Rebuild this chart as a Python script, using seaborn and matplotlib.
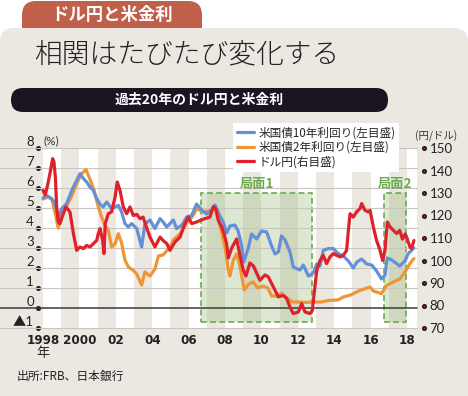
import numpy as np
import pandas as pd
import matplotlib
matplotlib.use("Agg")
import matplotlib.pyplot as plt
from matplotlib.patches import FancyBboxPatch, Rectangle
from matplotlib.colors import to_rgba
import seaborn as sns

# ------------------------------
# Data
# ------------------------------
# US 10y yield (%), decimal years
t10 = [1998.0, 1998.2, 1998.48, 1998.66, 1998.84, 1999.03, 1999.3, 1999.58, 1999.76,
       2000.03, 2000.22, 2000.4, 2000.58, 2000.77, 2000.95, 2001.13, 2001.3, 2001.5,
       2001.77, 2001.96, 2002.14, 2002.32, 2002.5, 2002.69, 2002.87, 2003.15, 2003.42,
       2003.6, 2003.88, 2004.15, 2004.43, 2004.6, 2004.8, 2005.16, 2005.34, 2005.62,
       2005.9, 2006.17, 2006.44, 2006.72, 2006.99, 2007.27, 2007.45, 2007.72, 2007.9,
       2008.09, 2008.27, 2008.55, 2008.72, 2008.9, 2009.03, 2009.28, 2009.46, 2009.74,
       2010.0, 2010.29, 2010.56, 2010.75, 2010.93, 2011.1, 2011.3, 2011.57, 2011.75,
       2012.12, 2012.3, 2012.58, 2012.85, 2013.04, 2013.22, 2013.4, 2013.67, 2013.95,
       2014.22, 2014.5, 2014.78, 2015.05, 2015.25, 2015.51, 2015.78, 2016.06, 2016.33,
       2016.6, 2016.79, 2016.92, 2017.16, 2017.43, 2017.6, 2017.89, 2018.07, 2018.25,
       2018.38]
us10y = [5.5, 5.63, 5.47, 5.22, 4.55, 4.97, 5.22, 5.88, 6.22,
         6.72, 6.47, 6.3, 6.05, 5.88, 5.47, 5.2, 5.05, 5.3,
         4.97, 5.05, 5.13, 4.8, 4.22, 4.05, 4.22, 3.97, 3.05,
         4.2, 4.4, 3.97, 4.47, 4.3, 4.05, 4.4, 3.97, 4.13,
         4.55, 4.63, 5.2, 4.9, 4.7, 4.9, 5.15, 4.6, 4.3,
         3.75, 4.1, 4.15, 3.85, 3.2, 2.3, 3.0, 3.7, 3.45,
         3.85, 3.8, 3.1, 2.7, 2.8, 3.6, 3.4, 2.8, 2.05,
         1.9, 2.15, 1.6, 1.75, 2.2, 2.1, 2.88, 2.97, 2.97,
         2.72, 2.6, 2.35, 2.0, 2.3, 2.45, 2.2, 2.15, 1.85,
         1.45, 1.65, 2.5, 2.4, 2.22, 2.1, 2.35, 2.72, 2.88,
         3.0]

# US 2y yield (%)
t2 = [1998.0, 1998.3, 1998.5, 1998.7, 1998.84, 1999.0, 1999.3, 1999.55, 1999.8,
      2000.1, 2000.36, 2000.6, 2000.8, 2001.04, 2001.22, 2001.4, 2001.59, 2001.77,
      2001.96, 2002.14, 2002.32, 2002.5, 2002.69, 2002.96, 2003.15, 2003.42, 2003.6,
      2003.88, 2004.15, 2004.34, 2004.6, 2004.98, 2005.16, 2005.53, 2005.9, 2006.26,
      2006.44, 2006.8, 2007.17, 2007.45, 2007.63, 2007.82, 2008.0, 2008.18, 2008.27,
      2008.46, 2008.64, 2008.82, 2009.06, 2009.3, 2009.55, 2009.8, 2010.1, 2010.35,
      2010.56, 2010.9, 2011.1, 2011.4, 2011.7, 2012.0, 2012.5, 2012.9, 2013.3,
      2013.7, 2014.2, 2014.5, 2014.9, 2015.42, 2015.97, 2016.15, 2016.6, 2016.88,
      2017.25, 2017.6, 2017.89, 2018.16, 2018.38]
us2y = [5.45, 5.55, 5.4, 4.6, 4.0, 4.6, 5.1, 5.55, 6.1,
        6.7, 6.92, 6.4, 5.9, 5.05, 4.55, 4.13, 3.88, 3.05,
        3.2, 3.72, 3.25, 2.4, 2.05, 1.88, 1.7, 1.15, 1.8,
        1.6, 1.95, 2.6, 2.65, 3.05, 3.4, 3.72, 4.25, 4.65,
        4.97, 4.8, 4.88, 4.97, 4.5, 3.75, 3.05, 1.9, 1.6,
        2.4, 2.7, 2.1, 0.9, 1.2, 1.3, 1.0, 1.1, 1.0,
        0.6, 0.6, 0.75, 0.5, 0.3, 0.3, 0.28, 0.3, 0.3,
        0.38, 0.4, 0.55, 0.65, 0.88, 1.05, 0.85, 0.72, 1.13,
        1.3, 1.45, 1.8, 2.22, 2.47]

# USD/JPY (yen per dollar, right axis)
tfx = [1998.0, 1998.12, 1998.25, 1998.38, 1998.53, 1998.6, 1998.68, 1998.75, 1998.84,
       1998.93, 1999.08, 1999.26, 1999.48, 1999.67, 1999.85, 2000.03, 2000.22, 2000.4,
       2000.58, 2000.77, 2000.95, 2001.04, 2001.13, 2001.28, 2001.35, 2001.42, 2001.59,
       2001.77, 2001.96, 2002.08, 2002.23, 2002.41, 2002.6, 2002.78, 2002.96, 2003.15,
       2003.33, 2003.5, 2003.7, 2003.88, 2004.15, 2004.43, 2004.6, 2004.8, 2004.98,
       2005.25, 2005.53, 2005.8, 2005.98, 2006.17, 2006.44, 2006.63, 2006.9, 2007.17,
       2007.36, 2007.5, 2007.63, 2007.8, 2007.95, 2008.09, 2008.18, 2008.37, 2008.64,
       2008.82, 2009.0, 2009.15, 2009.37, 2009.56, 2009.74, 2009.92, 2010.2, 2010.38,
       2010.66, 2010.93, 2011.2, 2011.39, 2011.57, 2011.75, 2012.03, 2012.21, 2012.4,
       2012.67, 2012.8, 2012.9, 2013.04, 2013.22, 2013.4, 2013.58, 2013.77, 2013.95,
       2014.13, 2014.32, 2014.5, 2014.68, 2014.78, 2014.87, 2015.05, 2015.23, 2015.42,
       2015.51, 2015.69, 2015.87, 2015.97, 2016.15, 2016.33, 2016.52, 2016.66, 2016.79,
       2016.92, 2017.07, 2017.25, 2017.43, 2017.6, 2017.75, 2017.9, 2017.98, 2018.16,
       2018.25, 2018.38]
usdjpy = [131.2, 129.1, 133.4, 138.6, 145.3, 143.8, 137.1, 123.8, 117.1,
          116.4, 120.0, 123.8, 121.6, 112.0, 104.5, 106.0, 105.3, 106.7,
          106.0, 107.5, 108.9, 112.0, 114.2, 108.9, 103.1, 116.4, 120.8,
          121.6, 128.2, 134.9, 131.2, 123.8, 120.8, 123.8, 120.0, 120.5,
          118.6, 119.3, 114.4, 110.4, 106.0, 110.4, 108.9, 107.5, 104.5,
          108.2, 110.4, 116.4, 119.3, 116.4, 117.1, 117.8, 118.6, 119.3,
          124.0, 122.9, 117.8, 115.3, 111.8, 107.3, 101.1, 105.6, 109.6,
          102.4, 95.8, 93.1, 98.9, 97.6, 94.4, 91.2, 93.6, 92.7,
          88.2, 83.8, 84.5, 83.1, 79.3, 76.4, 77.1, 80.8, 77.1,
          76.4, 77.8, 85.3, 95.6, 100.0, 102.3, 98.6, 101.6, 103.1,
          102.3, 101.6, 102.3, 104.5, 113.4, 120.8, 119.3, 121.6, 123.1,
          125.3, 122.3, 121.6, 122.3, 114.9, 108.9, 104.5, 100.0, 104.5,
          117.1, 114.9, 113.4, 112.0, 113.4, 109.5, 111.8, 110.4, 106.0,
          105.3, 108.9]

series_labels = ["米国債10年利回り(左目盛)", "米国債2年利回り(左目盛)", "ドル円(右目盛)"]

year_ticks = [1998, 2000, 2002, 2004, 2006, 2008, 2010, 2012, 2014, 2016, 2018]
year_labels = ["1998", "2000", "02", "04", "06", "08", "10", "12", "14", "16", "18"]
left_ticks = [-1, 0, 1, 2, 3, 4, 5, 6, 7, 8]
left_labels = ["▲1", "0", "1", "2", "3", "4", "5", "6", "7", "8"]
right_ticks = [70, 80, 90, 100, 110, 120, 130, 140, 150]

phase_names = ["局面1", "局面2"]
phase_start = [2006.68, 2016.74]
phase_end = [2012.8, 2017.93]
phase_low, phase_high = -0.68, 5.73

# colours
BLUE = "#6590d8"
ORANGE = "#ee9535"
RED = "#e0202b"
GREEN = "#6aab4f"
BEIGE = "#ebe8e1"

# ------------------------------
# Figure setup
# ------------------------------
sns.set_theme(style="white")
plt.rcParams['font.family'] = ['Noto Sans CJK JP', 'DejaVu Sans']

W, H = 468, 396
fig = plt.figure(figsize=(W / 100, H / 100), dpi=100, facecolor="white")

# background / header drawn in pixel coordinates
bg = fig.add_axes([0, 0, 1, 1], zorder=-1)
bg.set_xlim(0, W)
bg.set_ylim(H, 0)
bg.axis("off")

bg.add_patch(FancyBboxPatch((22, 1), 180, 40, boxstyle="round,pad=0,rounding_size=14",
                            fc="#c0604b", ec="none"))
bg.add_patch(FancyBboxPatch((0, 28), W, 400, boxstyle="round,pad=0,rounding_size=14",
                            fc=BEIGE, ec="none"))
bg.add_patch(FancyBboxPatch((11, 88), 377, 24, boxstyle="round,pad=0,rounding_size=12",
                            fc="#1d1421", ec="none"))
bg.text(112, 15, "ドル円と米金利", color="white", fontsize=12.5, fontweight="bold",
        ha="center", va="center")
bg.text(34, 54, "相関はたびたび変化する", color="#222222", fontsize=20, fontweight="light",
        ha="left", va="center")
bg.text(199, 100, "過去20年のドル円と米金利", color="white", fontsize=10, fontweight="bold",
        ha="center", va="center")
bg.text(43, 146, "(%)", fontsize=8.5, color="#333333", ha="left", va="bottom",
        family=["Lato", "DejaVu Sans"])
bg.text(436, 136, "(円/ドル)", fontsize=7.5, color="#333333", ha="center", va="center")
bg.text(17, 376, "出所:FRB、日本銀行", fontsize=8.5, color="#222222", ha="left", va="center")

# ------------------------------
# Main axes
# ------------------------------
px_per_year = 18.2
x_left, x_right, x1998 = 38, 417, 43
y_top, y_bot = 148, 328
ax = fig.add_axes([x_left / W, 1 - y_bot / H, (x_right - x_left) / W, (y_bot - y_top) / H])
ax.set_facecolor("none")
ax.set_xlim(1998 - (x1998 - x_left) / px_per_year, 1998 + (x_right - x1998) / px_per_year)
ax.set_ylim(-1, 8)

# alternating year stripes
for yr in range(1998, 2019, 2):
    ax.axvspan(yr, yr + 1, color="white", lw=0, zorder=0)

# horizontal grid, extending to the left edge of the panel
for v in left_ticks:
    ax.axhline(v, xmin=-x_left / (x_right - x_left), xmax=1, clip_on=False,
               color="#3a3a3a" if v == 0 else "#c9c5bd", lw=1.1 if v == 0 else 0.8,
               zorder=0.6)

# phase boxes
for name, s, e in zip(phase_names, phase_start, phase_end):
    ax.add_patch(Rectangle((s, phase_low), e - s, phase_high - phase_low,
                           facecolor=to_rgba("#8fb56a", 0.3), edgecolor=GREEN,
                           lw=1.2, ls=(0, (3.5, 2)), zorder=0.5))
    ax.text((s + e) / 2, phase_high + 0.12, name, ha="center", va="bottom",
            color=GREEN, fontsize=9.5, fontweight="bold", zorder=3)

df2 = pd.DataFrame({"year": t2, "value": us2y})
df10 = pd.DataFrame({"year": t10, "value": us10y})
dffx = pd.DataFrame({"year": tfx, "value": usdjpy})

sns.lineplot(data=df2, x="year", y="value", ax=ax, color=ORANGE, lw=2.3, legend=False, zorder=2)
line2 = ax.lines[-1]
sns.lineplot(data=df10, x="year", y="value", ax=ax, color=BLUE, lw=2.3, legend=False, zorder=2.1)
line10 = ax.lines[-1]

ax2 = ax.twinx()
sns.lineplot(data=dffx, x="year", y="value", ax=ax2, color=RED, lw=2.3, legend=False)
linefx = ax2.lines[-1]
ax2.set_ylim(70, 150)

for a in (ax, ax2):
    a.set_xlabel("")
    a.set_ylabel("")
    for s in a.spines.values():
        s.set_visible(False)

# x ticks
ax.set_xticks(year_ticks, year_labels)
ax.tick_params(axis="x", bottom=True, length=0, pad=4, labelsize=9.5, colors="#222222")
for lab in ax.get_xticklabels():
    lab.set_fontfamily(["DejaVu Sans"])
    lab.set_fontstretch("condensed")
    lab.set_fontweight("bold")
ax.annotate("年", xy=(1998, 0), xycoords=("data", "axes fraction"), xytext=(0, -14),
            textcoords="offset points", ha="center", va="top", fontsize=9.5, color="#222222")

# left ticks: black dots, labels sitting above the grid line
ax.set_yticks(left_ticks, left_labels)
ax.tick_params(axis="y", left=True, length=0, pad=3, labelsize=9.5, colors="#222222")
for t in ax.yaxis.get_major_ticks():
    t.tick1line.set_marker("o")
    t.tick1line.set_markersize(2.4)
    t.tick1line.set_color("#111111")
for lab in ax.get_yticklabels():
    lab.set_verticalalignment("bottom")
    lab.set_fontfamily(["Lato", "Noto Sans CJK JP"])

# right ticks: red dots
ax2.spines["right"].set_position(("outward", 5))
ax2.set_yticks(right_ticks)
ax2.tick_params(axis="y", right=True, length=0, pad=4, labelsize=9.5, colors="#222222")
for t in ax2.yaxis.get_major_ticks():
    t.tick2line.set_marker("o")
    t.tick2line.set_markersize(2.4)
    t.tick2line.set_color(RED)
for lab in ax2.get_yticklabels():
    lab.set_fontfamily(["Lato", "DejaVu Sans"])

# legend
fig.legend([line10, line2, linefx], series_labels, loc="upper left",
           bbox_to_anchor=(233 / W, 1 - 123 / H), frameon=True, facecolor="white",
           edgecolor="none", framealpha=1, fancybox=False, fontsize=8.4,
           handlelength=1.5, handletextpad=0.35, labelspacing=0.12,
           borderpad=0.3, borderaxespad=0)

plt.savefig("out.png", dpi=100)
